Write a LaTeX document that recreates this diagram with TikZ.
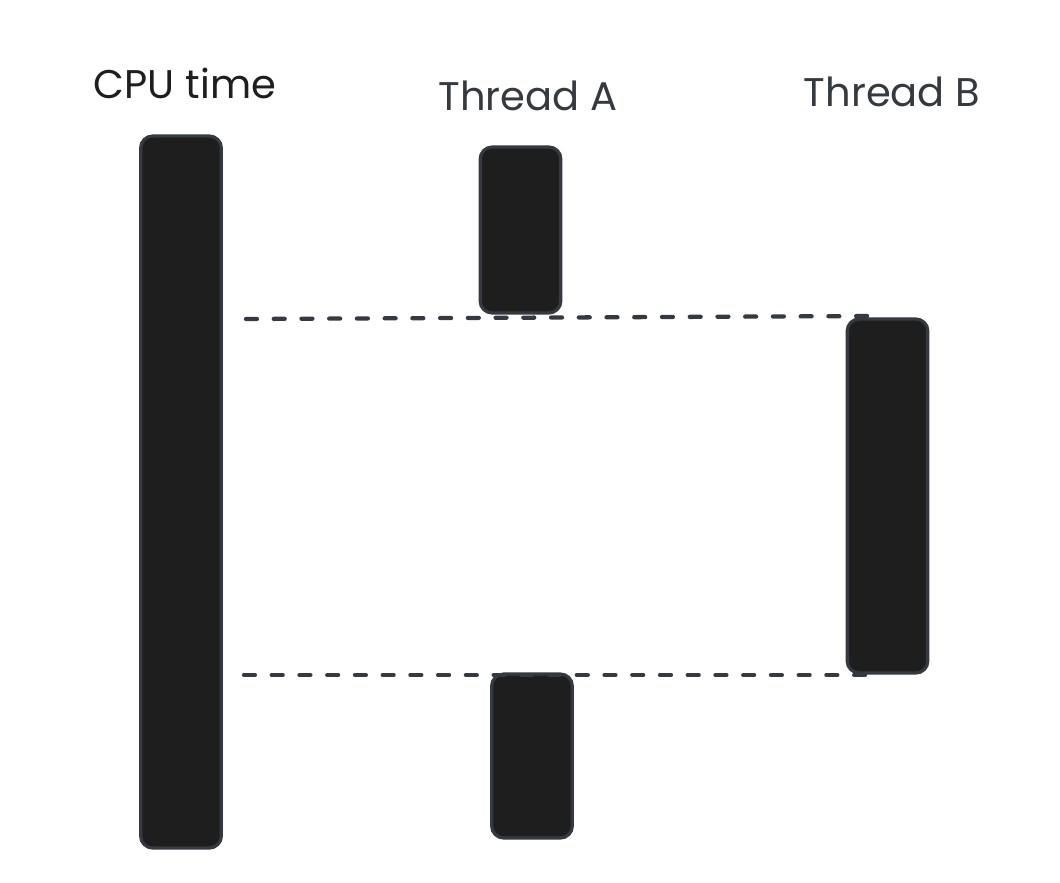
\documentclass[tikz,border=0pt]{standalone}
\usepackage{fontspec}
\setmainfont{Poppins}
\usetikzlibrary{calc}

\definecolor{barfill}{HTML}{1E1E1E}
\definecolor{barline}{HTML}{343A40}

\begin{document}
\begin{tikzpicture}[
  x=0.75pt, y=-0.75pt,
  slice/.style={rectangle, draw=barline, fill=barfill, line width=2.4pt,
                rounded corners=9pt, inner sep=0pt, minimum width=60.5pt},
  title/.style={text=barline, font=\fontsize{30}{34}\selectfont},
  sync/.style={draw=barline, line width=3.2pt, line cap=round,
               dash pattern=on 8.2pt off 12.6pt},
]
\useasboundingbox[fill=white] (0,0) rectangle (1060,882);

\node[slice, minimum height=534pt]   (cpu)  at (181,492)   {};
\node[slice, minimum height=124.5pt] (a1)   at (520.5,230) {};
\node[slice, minimum height=123pt]   (a2)   at (532,756)   {};
\node[slice, minimum height=265.5pt] (b1)   at (887.5,496) {};

\node[title, text=barfill] (cputxt) at (185,83) {CPU time};
\node[title] (atxt) at (528,96) {Thread A};
\node[title] (btxt) at (892,92) {Thread B};

% ---- switch points ----
\coordinate (s1) at (246,319);
\coordinate (e1) at (873,316);
\coordinate (s2) at (244,675);
\coordinate (e2) at (873,675);

\draw[sync] (s1) -- (e1);
\draw[sync] (s2) -- (e2);

\end{tikzpicture}
\end{document}
